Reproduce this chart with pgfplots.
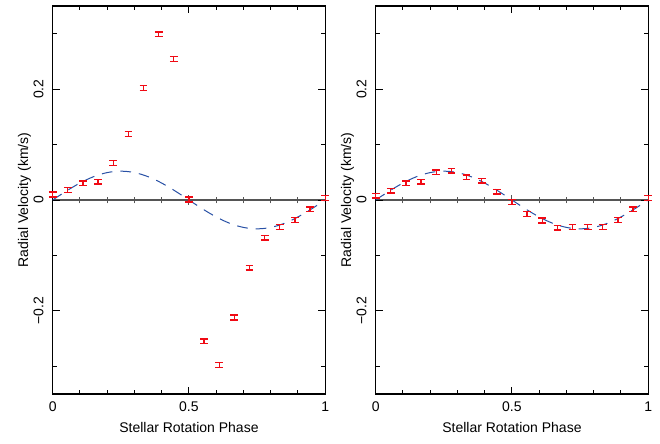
\documentclass[border=0pt]{standalone}
\usepackage{fontspec}
\setmainfont{Liberation Sans}
\usepackage{pgfplots}
\pgfplotsset{compat=1.18}
\usepackage{pgfplotstable}

\definecolor{fitblue}{RGB}{40,80,165}
\definecolor{zerogray}{RGB}{85,85,85}
\definecolor{barred}{RGB}{240,10,20}

% I-shaped mark: error bar of +-0.004 km/s with caps
\pgfdeclareplotmark{ibeam}{%
  \pgfsetstrokecolor{barred}%
  \pgfpathmoveto{\pgfqpoint{0pt}{-1.8pt}}\pgfpathlineto{\pgfqpoint{0pt}{1.8pt}}%
  \pgfpathmoveto{\pgfqpoint{-2.9pt}{-1.8pt}}\pgfpathlineto{\pgfqpoint{2.9pt}{-1.8pt}}%
  \pgfpathmoveto{\pgfqpoint{-2.9pt}{1.8pt}}\pgfpathlineto{\pgfqpoint{2.9pt}{1.8pt}}%
  \pgfusepathqstroke}

% measured radial velocities, left panel
\pgfplotstableread{
phase rv
0.0000  0.010
0.0556  0.018
0.1111  0.030
0.1667  0.033
0.2222  0.067
0.2778  0.119
0.3333  0.202
0.3889  0.299
0.4444  0.254
0.5000  0.001
0.5556 -0.255
0.6111 -0.298
0.6667 -0.212
0.7222 -0.122
0.7778 -0.068
0.8333 -0.049
0.8889 -0.036
0.9444 -0.017
1.0000  0.004
}\leftdata

% right panel
\pgfplotstableread{
phase rv
0.0000  0.008
0.0556  0.017
0.1111  0.030
0.1667  0.033
0.2222  0.050
0.2778  0.053
0.3333  0.041
0.3889  0.035
0.4444  0.015
0.5000 -0.004
0.5556 -0.025
0.6111 -0.037
0.6667 -0.050
0.7222 -0.049
0.7778 -0.049
0.8333 -0.049
0.8889 -0.036
0.9444 -0.017
1.0000  0.004
}\rightdata

% fitted curve, tabulated
\pgfplotstableread{
phase rv
0.000  0.00000
0.025  0.00813
0.050  0.01607
0.075  0.02361
0.100  0.03057
0.125  0.03677
0.150  0.04207
0.175  0.04633
0.200  0.04946
0.225  0.05136
0.250  0.05200
0.275  0.05136
0.300  0.04946
0.325  0.04633
0.350  0.04207
0.375  0.03677
0.400  0.03057
0.425  0.02361
0.450  0.01607
0.475  0.00813
0.500  0.00000
0.525 -0.00813
0.550 -0.01607
0.575 -0.02361
0.600 -0.03057
0.625 -0.03677
0.650 -0.04207
0.675 -0.04633
0.700 -0.04946
0.725 -0.05136
0.750 -0.05200
0.775 -0.05136
0.800 -0.04946
0.825 -0.04633
0.850 -0.04207
0.875 -0.03677
0.900 -0.03057
0.925 -0.02361
0.950 -0.01607
0.975 -0.00813
1.000  0.00000
}\fitdata

\pgfplotsset{
  box/.style={
    width=204.4pt, height=291pt, scale only axis,
    xmin=0, xmax=1, ymin=-0.35, ymax=0.35,
  },
  panel/.style={
    box,
    font=\fontsize{10.5}{12}\selectfont,
    xtick={0,0.5,1}, xticklabels={0,0.5,1},
    minor xtick={0.1,0.2,0.3,0.4,0.6,0.7,0.8,0.9},
    ytick={-0.2,0,0.2}, yticklabels={−0.2,0,0.2},
    minor ytick={-0.3,-0.1,0.1,0.3},
    tick align=inside,
    major tick length=5.6pt, minor tick length=3pt,
    every tick/.style={black, line width=0.7pt},
    axis line style={line width=0.9pt},
    yticklabel style={xshift=-7pt, rotate=90, anchor=base},
    xticklabel style={yshift=-2pt},
    xlabel={Stellar Rotation Phase},
    ylabel={Radial Velocity (km/s)},
    xlabel style={at={(axis description cs:0.5,0)}, anchor=base, yshift=-29pt},
    ylabel style={at={(axis description cs:-0.09,0.5)}, anchor=base},
  },
  zeroline/.style={
    box,
    axis x line=middle, axis y line=none,
    xtick={0.5}, xticklabels={},
    minor xtick={0.1,0.2,0.3,0.4,0.6,0.7,0.8,0.9},
    tick align=center,
    major tick length=7pt, minor tick length=5pt,
    every tick/.style={zerogray, line width=0.7pt},
    axis line style={zerogray, line width=1pt, -},
  },
  rvbars/.style={
    barred, only marks, mark=ibeam,
    mark options={barred, solid, line width=1pt},
  },
  fitline/.style={fitblue, line width=0.75pt, dash pattern=on 8pt off 6pt, smooth},
}

\begin{document}
\begin{tikzpicture}
\useasboundingbox (-39.5pt,-36.75pt) rectangle (455.5pt,295.5pt);

\begin{axis}[zeroline, at={(0,0)}]
\addplot[draw=none] coordinates {(0,0) (1,0)};
\end{axis}
\begin{axis}[panel, at={(0,0)}]
\addplot[fitline] table[x=phase, y=rv] {\fitdata};
\addplot[rvbars] table[x=phase, y=rv] {\leftdata};
\end{axis}

\begin{axis}[zeroline, at={(242.25pt,0)}]
\addplot[draw=none] coordinates {(0,0) (1,0)};
\end{axis}
\begin{axis}[panel, at={(242.25pt,0)}]
\addplot[fitline] table[x=phase, y=rv] {\fitdata};
\addplot[rvbars] table[x=phase, y=rv] {\rightdata};
\end{axis}
\end{tikzpicture}
\end{document}
